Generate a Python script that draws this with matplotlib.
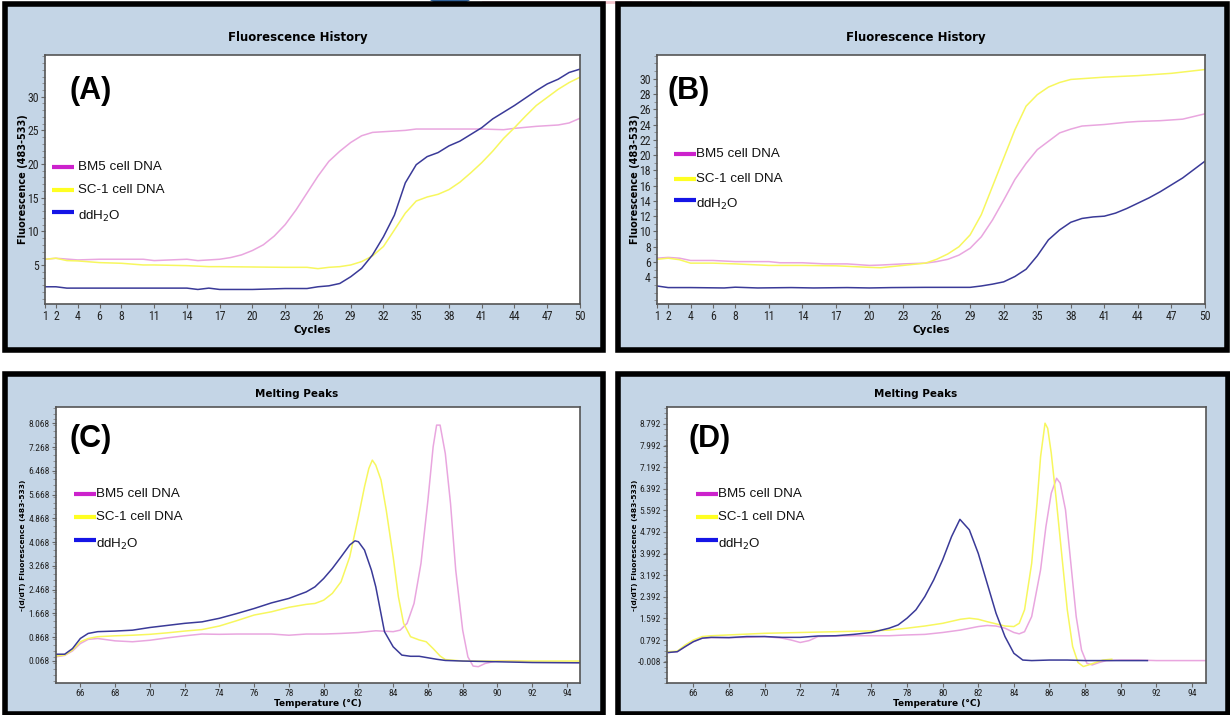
import os
import matplotlib
matplotlib.use("Agg")
import matplotlib.pyplot as plt
from matplotlib import font_manager as fm
from matplotlib.patches import Rectangle, Ellipse
from matplotlib.ticker import MultipleLocator, FixedLocator

# ---------------- DATA ----------------
series_names = ["BM5 cell DNA", "SC-1 cell DNA", "ddH$_2$O"]

# Panel A (Fluorescence History)
a_bm5_x = [1, 2, 4, 6, 8, 10, 11, 14, 15, 17, 18, 19, 20, 21, 22, 23, 24, 25, 26, 27, 28, 29, 30, 31, 32, 34, 35, 38, 41, 43, 44, 46, 48, 49, 50]
a_bm5_y = [5.85, 6.0, 5.75, 5.85, 5.85, 5.85, 5.65, 5.85, 5.65, 5.85, 6.1, 6.5, 7.15, 8.0, 9.3, 11.0, 13.2, 15.7, 18.2, 20.4, 21.9, 23.2, 24.2, 24.7, 24.8, 25.0, 25.2, 25.2, 25.2, 25.1, 25.3, 25.6, 25.8, 26.1, 26.8]
a_sc1_x = [1, 2, 3, 4, 6, 8, 10, 11, 14, 16, 17, 20, 23, 25, 26, 27, 28, 29, 30, 31, 32, 33, 34, 35, 36, 37, 38, 39, 40, 41, 42, 43, 44, 45, 46, 47, 48, 49, 50]
a_sc1_y = [5.85, 6.0, 5.65, 5.6, 5.35, 5.25, 5.0, 5.0, 4.9, 4.75, 4.75, 4.7, 4.65, 4.65, 4.45, 4.65, 4.75, 5.0, 5.5, 6.35, 7.75, 10.2, 12.7, 14.5, 15.1, 15.5, 16.2, 17.3, 18.7, 20.2, 21.9, 23.8, 25.4, 27.1, 28.7, 29.9, 31.1, 32.1, 32.9]
a_h2o_x = [1, 2, 3, 14, 15, 16, 17, 20, 23, 25, 26, 27, 28, 29, 30, 31, 32, 33, 33.5, 34, 35, 36, 37, 38, 39, 40, 41, 42, 43, 44, 45, 46, 47, 48, 49, 50]
a_h2o_y = [1.76, 1.76, 1.56, 1.56, 1.36, 1.56, 1.36, 1.36, 1.5, 1.5, 1.76, 1.9, 2.25, 3.25, 4.5, 6.5, 9.2, 12.4, 14.8, 17.2, 19.9, 21.1, 21.7, 22.7, 23.4, 24.4, 25.4, 26.7, 27.7, 28.7, 29.8, 30.9, 31.9, 32.6, 33.6, 34.1]

# Panel B (Fluorescence History)
b_bm5_x = [1, 2, 3, 4, 6, 8, 11, 12, 14, 16, 18, 20, 21, 23, 25, 26, 27, 28, 29, 30, 31, 32, 33, 34, 35, 36, 37, 38, 39, 40, 41, 43, 44, 46, 48, 50]
b_bm5_y = [6.5, 6.6, 6.5, 6.2, 6.2, 6.05, 6.05, 5.9, 5.9, 5.75, 5.75, 5.55, 5.6, 5.75, 5.85, 6.05, 6.35, 6.9, 7.8, 9.3, 11.5, 14.1, 16.8, 18.9, 20.7, 21.8, 22.9, 23.4, 23.8, 23.9, 24.0, 24.3, 24.4, 24.5, 24.7, 25.4]
b_sc1_x = [1, 2, 3, 4, 6, 8, 11, 14, 17, 20, 21, 23, 25, 26, 27, 28, 29, 30, 31, 32, 33, 34, 35, 36, 37, 38, 39, 41, 44, 47, 50]
b_sc1_y = [6.35, 6.5, 6.3, 5.85, 5.85, 5.75, 5.55, 5.55, 5.5, 5.3, 5.25, 5.55, 5.85, 6.35, 7.05, 8.0, 9.55, 12.2, 15.9, 19.6, 23.3, 26.4, 27.9, 28.9, 29.5, 29.9, 30.0, 30.2, 30.4, 30.7, 31.2]
b_h2o_x = [1, 2, 4, 7, 8, 10, 13, 15, 18, 20, 22, 25, 29, 30, 31, 32, 33, 34, 35, 36, 37, 38, 39, 40, 41, 42, 43, 44, 45, 46, 47, 48, 49, 50]
b_h2o_y = [2.86, 2.65, 2.65, 2.6, 2.7, 2.6, 2.65, 2.6, 2.65, 2.6, 2.65, 2.68, 2.68, 2.86, 3.1, 3.4, 4.1, 5.05, 6.8, 8.9, 10.2, 11.2, 11.7, 11.9, 12.0, 12.4, 13.0, 13.7, 14.4, 15.2, 16.1, 17.0, 18.1, 19.2]

# Panel C (Melting Peaks)
c_h2o_x = [64.6, 65.1, 65.55, 66, 66.45, 67, 68, 69, 70, 71, 72, 73, 74, 75, 76, 77, 78, 79, 79.5, 80, 80.5, 81, 81.5, 81.8, 82, 82.35, 82.75, 83, 83.5, 84, 84.5, 85, 85.5, 86, 86.5, 87, 88, 90, 92, 94.75]
c_h2o_y = [0.29, 0.29, 0.48, 0.82, 0.99, 1.05, 1.07, 1.10, 1.19, 1.26, 1.33, 1.38, 1.50, 1.66, 1.83, 2.02, 2.17, 2.39, 2.56, 2.84, 3.18, 3.57, 3.97, 4.11, 4.08, 3.80, 3.12, 2.56, 1.05, 0.54, 0.26, 0.22, 0.22, 0.17, 0.12, 0.08, 0.06, 0.035, 0.01, 0.0]
c_sc1_x = [64.6, 65.1, 65.55, 66, 66.45, 67, 68, 69, 70, 71, 72, 73, 74, 75, 76, 77, 78, 79, 79.5, 80, 80.5, 81, 81.5, 82, 82.35, 82.6, 82.8, 83.0, 83.3, 83.6, 84, 84.3, 84.6, 85, 85.5, 85.9, 86.3, 86.7, 87.0, 88, 90, 92, 94.75]
c_sc1_y = [0.23, 0.26, 0.43, 0.71, 0.82, 0.88, 0.91, 0.93, 0.96, 1.01, 1.07, 1.12, 1.24, 1.42, 1.61, 1.72, 1.87, 1.97, 2.00, 2.11, 2.34, 2.73, 3.57, 4.92, 5.93, 6.55, 6.83, 6.66, 6.16, 5.15, 3.57, 2.23, 1.33, 0.88, 0.77, 0.71, 0.48, 0.23, 0.11, 0.06, 0.06, 0.06, 0.06]
c_bm5_x = [64.6, 65.1, 65.55, 66, 66.45, 67, 68, 69, 70, 71, 72, 73, 74, 75, 76, 77, 78, 79, 80, 81, 82, 83, 84, 84.4, 84.8, 85.2, 85.6, 86.0, 86.3, 86.5, 86.7, 87.0, 87.3, 87.6, 88.0, 88.3, 88.6, 88.9, 89.3, 90, 91, 92, 94.75]
c_bm5_y = [0.20, 0.25, 0.40, 0.65, 0.79, 0.82, 0.74, 0.71, 0.76, 0.84, 0.91, 0.97, 0.96, 0.97, 0.97, 0.97, 0.93, 0.97, 0.97, 0.99, 1.02, 1.08, 1.05, 1.10, 1.33, 2.00, 3.35, 5.48, 7.28, 8.01, 8.01, 7.05, 5.37, 3.12, 1.10, 0.20, -0.11, -0.13, -0.02, 0.068, 0.068, 0.02, 0.01]

# Panel D (Melting Peaks)
d_h2o_x = [64.6, 65.1, 65.55, 66, 66.5, 67, 68, 69, 70, 71, 72, 73, 74, 75, 76, 77, 77.5, 78, 78.5, 79, 79.5, 80, 80.5, 80.97, 81.5, 82, 82.5, 83, 83.5, 84, 84.5, 85, 86, 87, 88, 90, 91.5]
d_h2o_y = [0.33, 0.36, 0.55, 0.73, 0.86, 0.89, 0.88, 0.92, 0.92, 0.89, 0.89, 0.94, 0.95, 1.00, 1.07, 1.23, 1.35, 1.60, 1.91, 2.40, 3.02, 3.76, 4.62, 5.26, 4.87, 4.00, 2.89, 1.78, 0.92, 0.30, 0.05, 0.03, 0.05, 0.05, 0.03, 0.03, 0.03]
d_sc1_x = [64.6, 65.1, 65.55, 66, 66.5, 67, 68, 70, 72, 74, 76, 77, 78, 79, 80, 81, 81.5, 82, 82.5, 83, 83.5, 84, 84.3, 84.6, 85.0, 85.3, 85.5, 85.75, 85.9, 86.1, 86.4, 86.7, 87.0, 87.3, 87.6, 87.9, 88.2, 88.6, 89, 89.5]
d_sc1_y = [0.36, 0.38, 0.61, 0.79, 0.92, 0.95, 0.98, 1.04, 1.07, 1.10, 1.13, 1.16, 1.23, 1.31, 1.41, 1.56, 1.60, 1.56, 1.47, 1.39, 1.31, 1.29, 1.41, 1.91, 3.63, 5.86, 7.58, 8.82, 8.63, 7.71, 5.86, 3.88, 1.91, 0.55, -0.04, -0.19, -0.13, -0.04, 0.05, 0.08]
d_bm5_x = [64.6, 65.1, 65.55, 66, 66.5, 67, 68, 69, 70, 71, 71.5, 72, 72.5, 73, 74, 75, 76, 77, 78, 79, 80, 81, 82, 82.5, 83, 83.5, 84, 84.3, 84.6, 85, 85.5, 85.8, 86.1, 86.4, 86.6, 86.9, 87.2, 87.5, 87.8, 88.1, 88.4, 88.8, 89.2, 90, 91, 92, 94.75]
d_bm5_y = [0.33, 0.36, 0.55, 0.73, 0.86, 0.88, 0.88, 0.89, 0.92, 0.86, 0.79, 0.70, 0.77, 0.92, 0.94, 0.95, 0.95, 0.95, 0.98, 1.00, 1.07, 1.16, 1.29, 1.33, 1.31, 1.23, 1.07, 1.02, 1.10, 1.66, 3.39, 4.99, 6.23, 6.78, 6.60, 5.61, 3.63, 1.66, 0.42, -0.07, -0.13, -0.04, 0.03, 0.05, 0.05, 0.03, 0.03]

cycle_ticks = [1, 2, 4, 6, 8, 11, 14, 17, 20, 23, 26, 29, 32, 35, 38, 41, 44, 47, 50]
temp_ticks = [66, 68, 70, 72, 74, 76, 78, 80, 82, 84, 86, 88, 90, 92, 94]
a_yticks = [5, 10, 15, 20, 25, 30]
b_yticks = [4, 6, 8, 10, 12, 14, 16, 18, 20, 22, 24, 26, 28, 30]
c_yticks = [0.068, 0.868, 1.668, 2.468, 3.268, 4.068, 4.868, 5.668, 6.468, 7.268, 8.068]
d_yticks = [-0.008, 0.792, 1.592, 2.392, 3.192, 3.992, 4.792, 5.592, 6.392, 7.192, 7.992, 8.792]

# ---------------- STYLE ----------------
W, H = 1230, 715
BG = "#C4D5E6"
CURVE = {"bm5": "#E9A6DF", "sc1": "#F7F75E", "h2o": "#3A3A98"}
LEG = {"bm5": "#CC22CC", "sc1": "#FFFF22", "h2o": "#1515E6"}


def pick_narrow_font():
    pref = ["liberation sans narrow", "roboto condensed", "dejavu sans condensed",
            "noto sans condensed", "open sans condensed", "arial narrow"]
    found = []
    for f in fm.fontManager.ttflist:
        n = f.name.lower()
        fn = os.path.basename(f.fname).lower()
        st = str(f.stretch).lower()
        w = f.weight
        regular = (w in (400, "normal", "regular", "book")) and f.style == "normal"
        narrow = ("narrow" in n or "condensed" in n or "condensed" in fn or "narrow" in fn
                  or st in ("condensed", "semi-condensed"))
        if narrow and regular and "semi" not in fn and "extra" not in fn:
            key = n + " " + ("condensed" if "condensed" in fn else "")
            rank = len(pref)
            for i, p in enumerate(pref):
                if p in key or p in n:
                    rank = i
                    break
            found.append((rank, f.fname))
    if found:
        found.sort()
        return found[0][1]
    return None


NARROW = pick_narrow_font()


def tick_fp(size):
    if NARROW:
        return fm.FontProperties(fname=NARROW, size=size)
    return fm.FontProperties(family=["Liberation Sans", "DejaVu Sans"], size=size * 0.82)


fig = plt.figure(figsize=(W / 100, H / 100), dpi=100)
fig.patch.set_facecolor("white")

bg = fig.add_axes([0, 0, 1, 1])
bg.set_xlim(0, W)
bg.set_ylim(H, 0)
bg.axis("off")

# partial logo at top
bg.add_patch(Ellipse((450, -6), 48, 22, facecolor="#2E5E95", edgecolor="none", zorder=0))
bg.plot([483, 690], [1.5, 1.5], color="#F2C4CC", lw=2, zorder=0)

frames = [(5, 4, 598, 346), (618, 4, 609, 346), (5, 374, 598, 340), (618, 374, 610, 340)]
for (x0, y0, w, h) in frames:
    bg.add_patch(Rectangle((x0, y0), w, h, facecolor=BG, edgecolor="black", lw=4, zorder=1))


def px_axes(l, t, r, b):
    ax = fig.add_axes([l / W, 1 - b / H, (r - l) / W, (b - t) / H])
    ax._px = (l, t, r, b)
    return ax


def style(ax, size, ylab_dx, xlab_dy):
    for s in ax.spines.values():
        s.set_color("#555555")
        s.set_linewidth(1.2)
    ax.set_facecolor("white")
    ax.tick_params(axis="both", which="major", length=3, width=0.8, color="#666666",
                   labelcolor="#222222", pad=1.5)
    ax.tick_params(axis="both", which="minor", length=2, width=0.6, color="#888888")
    fp = tick_fp(size)
    for lab in ax.get_xticklabels() + ax.get_yticklabels():
        lab.set_fontproperties(fp)
    l, t, r, b = ax._px
    ax.yaxis.set_label_coords(-ylab_dx / (r - l), 0.5)
    ax.xaxis.set_label_coords(0.5, -xlab_dy / (b - t))


def history(ax, data, yticks, ylim, label, label_x):
    for key in ["bm5", "sc1", "h2o"]:
        xs, ys = data[key]
        ax.plot(xs, ys, color=CURVE[key], lw=1.1)
    ax.set_xlim(1, 50)
    ax.set_ylim(*ylim)
    ax.xaxis.set_major_locator(FixedLocator(cycle_ticks))
    ax.set_xticklabels([str(t) for t in cycle_ticks])
    ax.yaxis.set_major_locator(FixedLocator(yticks))
    ax.set_yticklabels([str(t) for t in yticks])
    ax.yaxis.set_minor_locator(MultipleLocator(1))
    ax.set_xlabel("Cycles", fontsize=7.5, fontweight="bold", va="center")
    ax.set_ylabel("Fluorescence (483-533)", fontsize=7, fontweight="bold", va="center")
    style(ax, 8.5, 22, 26)
    ax.text(label_x, 0.855, label, transform=ax.transAxes, fontsize=22, fontweight="bold",
            family=["Liberation Sans", "DejaVu Sans"], va="center", ha="left")


def melting(ax, data, yticks, ylim, xlim, label, label_x, ylab_dx):
    for key in ["bm5", "sc1", "h2o"]:
        xs, ys = data[key]
        ax.plot(xs, ys, color=CURVE[key], lw=1.1)
    ax.set_xlim(*xlim)
    ax.set_ylim(*ylim)
    ax.xaxis.set_major_locator(FixedLocator(temp_ticks))
    ax.set_xticklabels([str(t) for t in temp_ticks])
    ax.yaxis.set_major_locator(FixedLocator(yticks))
    ax.set_yticklabels(["%.3f" % t for t in yticks])
    ax.yaxis.set_minor_locator(MultipleLocator(0.2))
    ax.set_xlabel("Temperature (\u00b0C)", fontsize=6.5, fontweight="bold", va="center")
    ax.set_ylabel("-(d/dT) Fluorescence (483-533)", fontsize=5.4, fontweight="bold", va="center")
    style(ax, 6.8, ylab_dx, 20)
    ax.text(label_x, 0.885, label, transform=ax.transAxes, fontsize=22, fontweight="bold",
            family=["Liberation Sans", "DejaVu Sans"], va="center", ha="left")


# Panel A
axA = px_axes(45, 55, 580, 304)
history(axA, {"bm5": (a_bm5_x, a_bm5_y), "sc1": (a_sc1_x, a_sc1_y), "h2o": (a_h2o_x, a_h2o_y)},
        a_yticks, (-0.8, 36.2), "(A)", 0.045)

# Panel B
axB = px_axes(657, 55, 1205, 304)
history(axB, {"bm5": (b_bm5_x, b_bm5_y), "sc1": (b_sc1_x, b_sc1_y), "h2o": (b_h2o_x, b_h2o_y)},
        b_yticks, (0.5, 33.1), "(B)", 0.02)

# Panel C
axC = px_axes(56, 407, 580, 683)
melting(axC, {"bm5": (c_bm5_x, c_bm5_y), "sc1": (c_sc1_x, c_sc1_y), "h2o": (c_h2o_x, c_h2o_y)},
        c_yticks, (-0.68, 8.62), (64.6, 94.75), "(C)", 0.025, 33)

# Panel D
axD = px_axes(667, 407, 1206, 683)
melting(axD, {"bm5": (d_bm5_x, d_bm5_y), "sc1": (d_sc1_x, d_sc1_y), "h2o": (d_h2o_x, d_h2o_y)},
        d_yticks, (-0.8, 9.42), (64.52, 94.79), "(D)", 0.04, 32)

# overlay for titles and legends
ov = fig.add_axes([0, 0, 1, 1], facecolor="none")
ov.set_xlim(0, W)
ov.set_ylim(H, 0)
ov.axis("off")

ov.text(298, 38, "Fluorescence History", fontsize=8.5, fontweight="bold", ha="center", va="center")
ov.text(916, 38, "Fluorescence History", fontsize=8.5, fontweight="bold", ha="center", va="center")
ov.text(297, 394, "Melting Peaks", fontsize=7.5, fontweight="bold", ha="center", va="center")
ov.text(916, 394, "Melting Peaks", fontsize=7.5, fontweight="bold", ha="center", va="center")


def legend(x0, ys, text_dx):
    for key, y, name in zip(["bm5", "sc1", "h2o"], ys, series_names):
        ov.plot([x0, x0 + 22], [y, y], color=LEG[key], lw=3, solid_capstyle="butt")
        dy = 4 if key == "h2o" else 0
        ov.text(x0 + text_dx, y + dy, name, fontsize=9.6, va="center", ha="left",
                family=["Liberation Sans", "DejaVu Sans"], color="#111111")


legend(52, [167, 190, 212], 26)
legend(674, [154, 179, 200], 22)
legend(74, [494, 517, 540], 22)
legend(696, [494, 517, 540], 22)

fig.savefig("out.png", dpi=100, facecolor="white")
